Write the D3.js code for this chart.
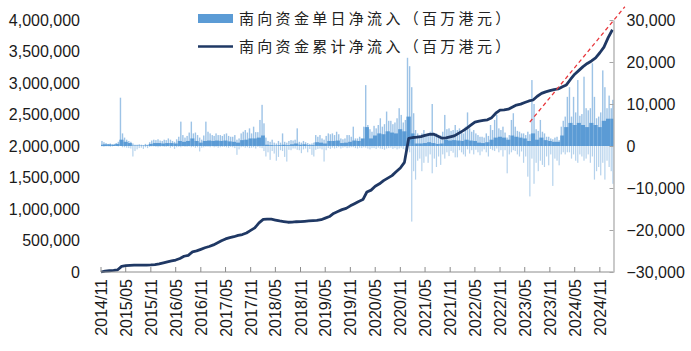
<!DOCTYPE html>
<html>
<head>
<meta charset="utf-8" />
<title>南向资金净流入</title>
<script src="https://cdnjs.cloudflare.com/ajax/libs/d3/7.8.5/d3.min.js"></script>
<style>
  body { margin: 0; background: #fff; }
  svg { display: block; }
</style>
</head>
<body>
<svg id="chart" width="691" height="351"></svg>
<script>
// first trading day and last day shown
const startDay = "2014-11-17"
const endDay = "2025-02-25"

// cumulative net inflow, HKD million, one value per month from 2014/11
const cumulative = [
  0, 15000, 20000, 25000, 32000, 90000, 100000, 105000, 108000, 108000, 108000, 110000,
  112000, 118000, 130000, 145000, 160000, 175000, 190000, 215000, 250000, 265000, 320000, 335000,
  360000, 385000, 405000, 430000, 460000, 495000, 525000, 545000, 560000, 580000, 595000, 620000,
  660000, 700000, 780000, 835000, 840000, 838000, 825000, 810000, 800000, 790000, 792000, 798000,
  800000, 805000, 810000, 815000, 818000, 830000, 855000, 880000, 930000, 960000, 990000, 1010000,
  1050000, 1085000, 1120000, 1150000, 1270000, 1300000, 1360000, 1400000, 1450000, 1490000, 1530000, 1590000,
  1650000, 1740000, 2120000, 2135000, 2140000, 2150000, 2170000, 2185000, 2190000, 2160000, 2125000, 2130000,
  2145000, 2160000, 2200000, 2240000, 2280000, 2330000, 2380000, 2395000, 2405000, 2415000, 2450000, 2520000,
  2570000, 2575000, 2585000, 2620000, 2650000, 2665000, 2690000, 2715000, 2730000, 2790000, 2835000, 2860000,
  2880000, 2895000, 2905000, 2940000, 2970000, 3060000, 3140000, 3200000, 3260000, 3310000, 3350000, 3400000,
  3480000, 3570000, 3720000, 3845000
]

// daily net inflow, HKD million: usual inflow level in each month, from 2014/11
const inflowTypical = [
  300, 400,
  400, 300, 500, 1500, 1000, 700, 100, 100, 100, 150, 500, 700,
  700, 600, 700, 700, 600, 1200, 1000, 1200, 1800, 1200, 800, 1200,
  1300, 1200, 1300, 1200, 1300, 1100, 1000, 800, 1400, 1500, 1800, 1800,
  2000, 2500, 300, 200, 150, 200, 300, 200, 400, 600, 300, 400,
  200, 200, 900, 800, 600, 1200, 1200, 1300, 700, 800, 1000, 1300,
  1200, 1800, 4500, 1800, 2500, 3000, 2800, 3500, 3200, 3000, 4000, 3500,
  7000, 3000, 600, 600, 700, 900, 700, 500, 600, 1500, 1300, 1400,
  1300, 1200, 1500, 1300, 1200, 800, 700, 900, 1500, 2000, 2200, 2000,
  1500, 2500, 2200, 2000, 1800, 1200, 3000, 1500, 2000, 1400, 1200, 1000,
  1000, 2500, 4500, 5500, 5000, 5500, 5000, 4500, 5500, 5000, 4500, 6000,
  6500, 6500
]

// biggest inflow day in each half month, from 2014/11
const inflowPeak = [
  0, 1200, 900, 700,
  500, 600, 400, 500, 700, 1000, 11500, 3000, 2000, 1500, 1200, 1000, 600, 300, 300, 400, 300, 200, 500, 300, 900, 1300, 1500, 1400,
  1600, 1300, 1200, 1500, 1400, 1800, 1500, 1200, 1000, 1600, 2200, 5800, 2600, 2000, 2400, 3200, 5800, 3000, 3200, 2600, 2000, 1500, 2500, 5800,
  3400, 3000, 2600, 2400, 3000, 2600, 2600, 2400, 2800, 3000, 2400, 2200, 2200, 2600, 1500, 1800, 3000, 3400, 3800, 3200, 4200, 3000, 4600, 3300,
  3300, 6200, 9800, 5400, 2000, 1200, 1000, 1500, 800, 600, 1200, 800, 3000, 1000, 800, 1200, 1400, 1300, 1500, 4200, 1000, 800, 1200, 900,
  700, 500, 600, 800, 2600, 2200, 2600, 1800, 1500, 2400, 3000, 2800, 3000, 2600, 3400, 2800, 1800, 1600, 1800, 2600, 2600, 2200, 4600, 1800,
  1800, 2200, 1400, 4600, 14500, 5000, 4000, 3400, 4800, 4200, 5000, 6600, 4600, 5200, 8200, 6000, 6000, 5200, 5600, 6600, 9000, 7400, 5600, 6200,
  21000, 19000, 14000, 7800, 3800, 3000, 2600, 3000, 3800, 2400, 3000, 3400, 10000, 2800, 3000, 2200, 2500, 3400, 7400, 4000, 4200, 3600, 3800, 5000,
  3800, 4200, 3600, 3000, 4600, 8000, 4200, 3400, 3800, 3000, 2600, 2200, 2200, 2000, 3000, 2400, 5000, 3800, 6200, 7400, 4200, 3800, 4600, 3200,
  2000, 2600, 6200, 7800, 4600, 3600, 3400, 3000, 3000, 2600, 3400, 2800, 15700, 10000, 4000, 3600, 6200, 3400, 3000, 2200, 2200, 1800, 1600, 2000,
  2200, 1400, 4600, 6000, 7000, 11700, 14000, 7000, 11700, 8000, 15700, 7200, 7600, 16500, 9000, 8500, 9000, 19700, 11700, 6600, 7000, 8000, 18000, 14000,
  9000, 12000, 9000, 11000
]

// biggest outflow day in each half month
const outflowPeak = [
  0, -100, -200, -100,
  -100, -200, -100, 0, 0, -100, 0, -300, -300, -400, -500, -600, -2500, -1200, -800, -500, -400, -700, -300, -500, -200, -100, -100, -200,
  -300, -200, -100, -200, -200, -100, -400, -200, -700, -300, -200, -300, -100, -200, -200, -100, -300, -200, -400, -300, -1300, -400, -300, -200,
  -200, -300, -100, -300, -200, -400, -300, -200, -200, -300, -400, -200, -300, -500, -2100, -800, -300, -200, -400, -300, -500, -400, -300, -600,
  -200, -400, -500, -1200, -2500, -1500, -3300, -1200, -1800, -3500, -2600, -1000, -1200, -2600, -3700, -900, -1000, -600, -600, -900, -1000, -1700, -800, -600,
  -1500, -700, -2100, -2500, -900, -700, -600, -800, -3700, -1000, -500, -700, -400, -600, -500, -300, -600, -400, -300, -500, -400, -300, -300, -500,
  -600, -400, -500, -300, -400, -600, -800, -500, -500, -700, -400, -600, -700, -900, -600, -500, -400, -700, -500, -800, -600, -400, -700, -900,
  -1000, -1500, -18000, -6000, -8000, -3500, -3000, -6000, -4000, -2500, -4000, -2000, -6500, -3000, -5000, -2500, -4500, -2000, -3000, -1500, -2400, -1200, -1600, -2700,
  -2700, -1000, -1500, -2000, -2500, -800, -1800, -1000, -2000, -900, -1500, -2200, -1300, -800, -1500, -2500, -700, -1000, -1200, -600, -1500, -1000, -2500, -1000,
  -6500, -2000, -1500, -1000, -1200, -2000, -2500, -1300, -4000, -2500, -7300, -12000, -3000, -9000, -4000, -6000, -3500, -4500, -5000, -2500, -4600, -2000, -9500, -3000,
  -3500, -4600, -2000, -1500, -2000, -1500, -1500, -3000, -2000, -3500, -4000, -2000, -2500, -3500, -3000, -2000, -4000, -2500, -8000, -6000, -5000, -7000, -4000, -8000,
  -3500, -5000, -6000, -9000
]

// red dashed trend line drawn over the recent run
const trendDays = ["2023-06-23", "2025-05-19"]
const trendValues = [2380000, 4210000]

const leftTicks = [0, 500000, 1000000, 1500000, 2000000, 2500000, 3000000, 3500000, 4000000]
const rightTicks = [-30000, -20000, -10000, 0, 10000, 20000, 30000]

const legendNames = ["南向资金单日净流入（百万港元）", "南向资金累计净流入（百万港元）"]

const parse = d3.timeParse("%Y-%m-%d")
const t0 = parse(startDay), t1 = parse(endDay)
const svg = d3.select("#chart")
const axisFont = "'Liberation Sans', Arial, sans-serif"

let x = d3.scaleTime().domain([t0, t1]).range([101, 613.5])
let yLeft = d3.scaleLinear().domain([0, 4000000]).range([272, 20])
let yRight = d3.scaleLinear().domain([-30000, 30000]).range([272, 20])

// half month slots: 1st-16th and 16th-1st of each month from 2014/11
let halves = d3.range(inflowPeak.length).map(function(i) {
  let m = d3.timeMonth.offset(new Date(2014, 10, 1), Math.floor(i / 2))
  let a = i % 2 === 0 ? m : new Date(m.getFullYear(), m.getMonth(), 16)
  let b = i % 2 === 0 ? new Date(m.getFullYear(), m.getMonth(), 16) : d3.timeMonth.offset(m, 1)
  if (a < t0) a = t0
  if (b > t1) b = t1
  return { a: a, b: b, up: inflowPeak[i], down: outflowPeak[i] }
}).filter(d => d.b > d.a)

let months = inflowTypical.map(function(v, i) {
  let a = d3.timeMonth.offset(new Date(2014, 10, 1), i)
  let b = d3.timeMonth.offset(a, 1)
  if (a < t0) a = t0
  if (b > t1) b = t1
  return { a: a, b: b, v: v }
})

let bars = svg.append("g").attr("fill", "#5b9bd5")
// thin spikes for the peak days, drawn light
bars.selectAll("rect.up")
  .data(halves)
  .enter()
  .append("rect")
  .attr("class", "up")
  .attr("x", d => (x(d.a) + x(d.b)) / 2 - 0.7)
  .attr("width", 1.4)
  .attr("y", d => yRight(d.up))
  .attr("height", d => yRight(0) - yRight(d.up))
  .attr("opacity", 0.6)
bars.selectAll("rect.down")
  .data(halves)
  .enter()
  .append("rect")
  .attr("class", "down")
  .attr("x", d => (x(d.a) + x(d.b)) / 2 - 0.6)
  .attr("width", 1.2)
  .attr("y", yRight(0))
  .attr("height", d => yRight(d.down) - yRight(0))
  .attr("opacity", 0.45)
// solid body of usual days
bars.selectAll("rect.base")
  .data(months)
  .enter()
  .append("rect")
  .attr("class", "base")
  .attr("x", d => x(d.a))
  .attr("width", d => x(d.b) - x(d.a))
  .attr("y", d => yRight(d.v))
  .attr("height", d => yRight(0) - yRight(d.v))

// cumulative line
let cumData = cumulative.map((v, i) => ({ t: d3.timeMonth.offset(t0, i), v: v }))
let line = d3.line().x(d => x(d.t)).y(d => yLeft(d.v))
svg.append("path")
  .datum(cumData)
  .attr("d", line)
  .attr("fill", "none")
  .attr("stroke", "#1f3864")
  .attr("stroke-width", 2.8)
  .attr("stroke-linejoin", "round")

// trend line
svg.append("line")
  .attr("x1", x(parse(trendDays[0]))).attr("y1", yLeft(trendValues[0]))
  .attr("x2", x(parse(trendDays[1]))).attr("y2", yLeft(trendValues[1]))
  .attr("stroke", "#e8383d")
  .attr("stroke-width", 1.3)
  .attr("stroke-dasharray", "4,3")

// bottom axis, ticks every six months, pointing up
let xTicks = d3.range(21).map(i => d3.timeMonth.offset(t0, 6 * i))
let xAxis = svg.append("g").attr("stroke", "#8c8c8c")
xAxis.append("line").attr("x1", x(t0)).attr("x2", x(t1)).attr("y1", 272).attr("y2", 272)
xAxis.selectAll("line.tick")
  .data(xTicks)
  .enter()
  .append("line")
  .attr("class", "tick")
  .attr("x1", d => x(d)).attr("x2", d => x(d))
  .attr("y1", 272).attr("y2", 267)
svg.append("g")
  .selectAll("text")
  .data(xTicks)
  .enter()
  .append("text")
  .attr("transform", d => "translate(" + (x(d) + 6) + ",279) rotate(-90)")
  .attr("text-anchor", "end")
  .style("font-family", axisFont)
  .style("font-size", "16px")
  .attr("fill", "#1a1a1a")
  .text(d3.timeFormat("%Y/%m"))

// left axis labels only
svg.append("g")
  .selectAll("text")
  .data(leftTicks)
  .enter()
  .append("text")
  .attr("x", 80)
  .attr("y", d => yLeft(d))
  .attr("dy", "0.35em")
  .attr("text-anchor", "end")
  .style("font-family", axisFont)
  .style("font-size", "16px")
  .attr("fill", "#1a1a1a")
  .text(d3.format(","))

// right axis with line
let rightAxis = d3.axisRight(yRight).tickValues(rightTicks).tickSize(0).tickPadding(13).tickFormat(d3.format(","))
let rg = svg.append("g").attr("transform", "translate(613.5,0)").call(rightAxis)
rg.select(".domain").attr("stroke", "#a6a6a6").attr("stroke-width", 1.2)
rg.selectAll(".tick line").attr("x2", -4).attr("stroke", "#a6a6a6")
rg.selectAll("text")
  .style("font-family", axisFont)
  .style("font-size", "16px")
  .attr("fill", "#1a1a1a")

// legend
let lg = svg.append("g")
lg.append("rect").attr("x", 198).attr("y", 14).attr("width", 35).attr("height", 9).attr("fill", "#5b9bd5")
lg.append("line").attr("x1", 198).attr("x2", 233).attr("y1", 46.5).attr("y2", 46.5)
  .attr("stroke", "#1f3864").attr("stroke-width", 2.5)
lg.selectAll("text")
  .data(legendNames)
  .enter()
  .append("text")
  .attr("x", 239)
  .attr("y", (d, i) => 19 + i * 27.5)
  .attr("dy", "0.35em")
  .style("font-family", "'Noto Sans CJK SC', sans-serif")
  .style("font-size", "15px")
  .style("letter-spacing", "3.3px")
  .attr("fill", "#222")
  .text(d => d)
</script>
</body>
</html>
